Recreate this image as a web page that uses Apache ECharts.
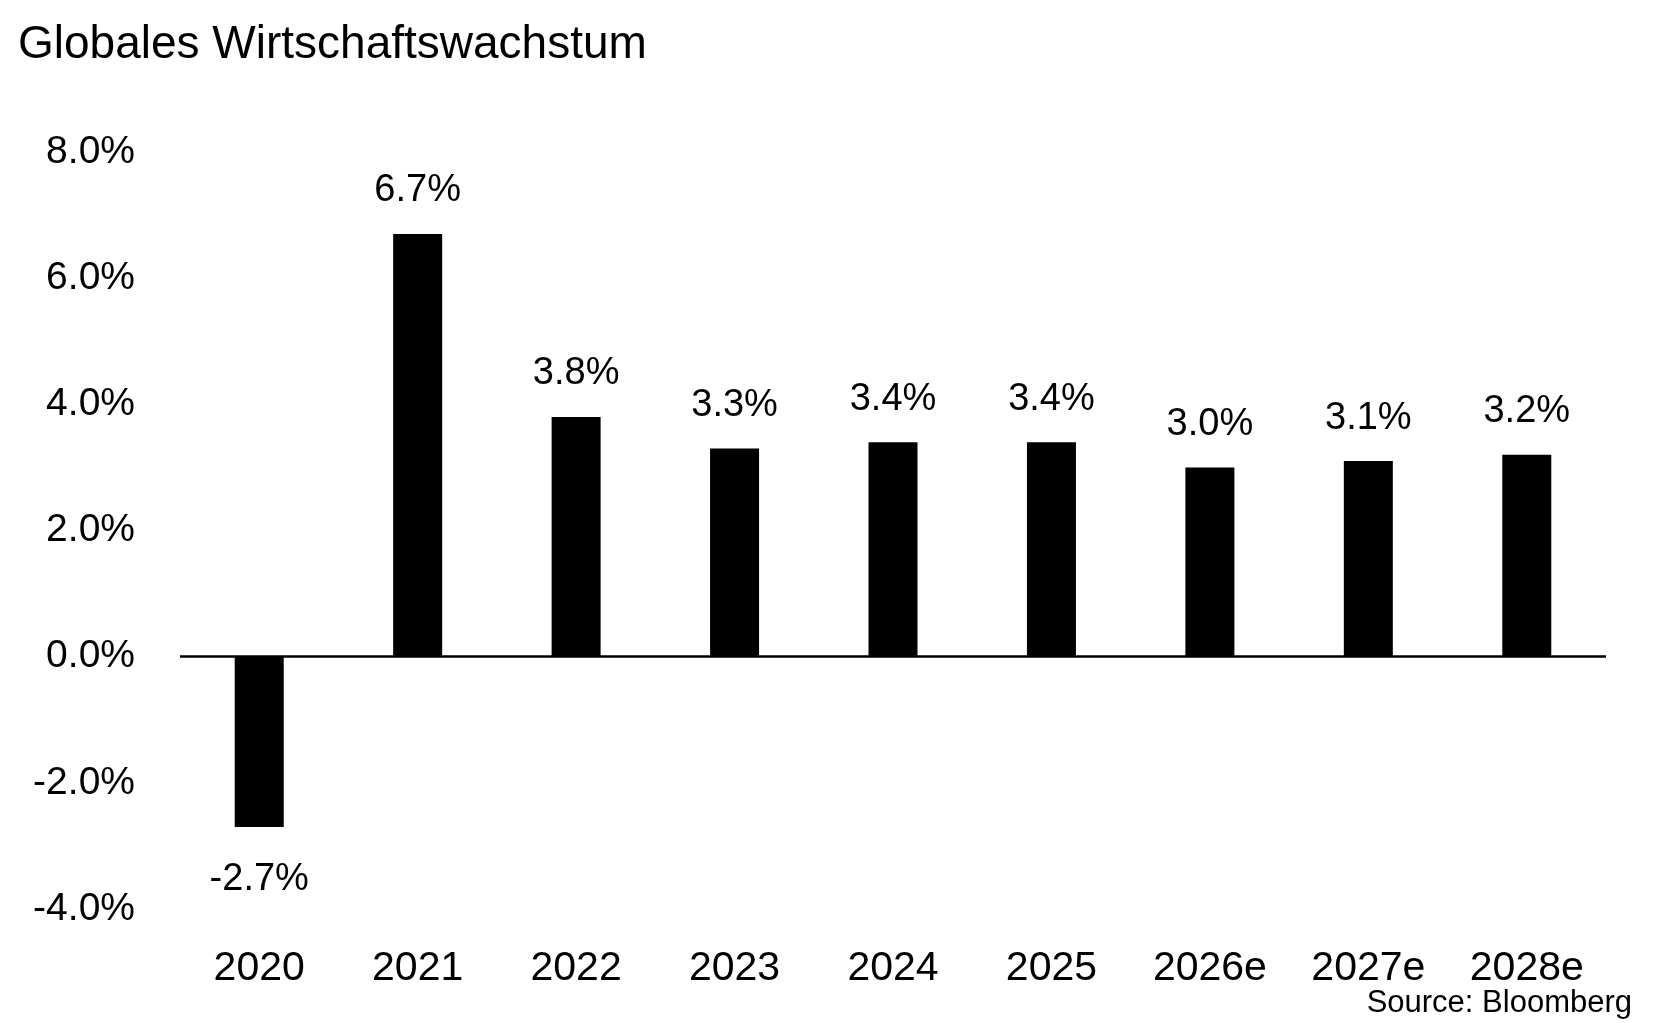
<!DOCTYPE html>
<html>
<head>
<meta charset="utf-8">
<script src="https://cdn.jsdelivr.net/npm/echarts@6/dist/echarts.min.js"></script>
<style>
html,body{margin:0;padding:0;background:#fff;}
#chart{width:1657px;height:1023px;}
</style>
</head>
<body>
<div id="chart"></div>
<script>
const categories = ['2020','2021','2022','2023','2024','2025','2026e','2027e','2028e'];
const growth = [-2.7, 6.7, 3.8, 3.3, 3.4, 3.4, 3.0, 3.1, 3.2];
const yMin = -4, yMax = 8, yStep = 2;
const titleText = 'Globales Wirtschaftswachstum';
const sourceText = 'Source: Bloomberg';

const FONT = '"Liberation Sans", Arial, sans-serif';
const chart = echarts.init(document.getElementById('chart'));

const seriesData = growth.map(v => v < 0
  ? { value: v, label: { position: 'bottom', distance: 34 } }
  : { value: v });

chart.setOption({
  animation: false,
  backgroundColor: '#ffffff',
  title: {
    text: titleText,
    left: 13,
    top: 17,
    textStyle: { fontFamily: FONT, fontSize: 46, fontWeight: 'normal', color: '#000' }
  },
  graphic: [{
    type: 'text',
    right: 25,
    top: 988,
    style: { text: sourceText, fontFamily: FONT, fontSize: 31, fill: '#000' }
  }],
  grid: { left: 180, right: 51, top: 152, bottom: 114, containLabel: false },
  xAxis: {
    type: 'category',
    data: categories,
    axisLine: { show: false, onZero: false },
    axisTick: { show: false },
    axisLabel: { margin: 39, fontFamily: FONT, fontSize: 41, color: '#000' }
  },
  yAxis: {
    type: 'value',
    min: yMin, max: yMax, interval: yStep,
    splitLine: { show: false },
    axisLine: { show: false },
    axisTick: { show: false },
    axisLabel: {
      margin: 45, fontFamily: FONT, fontSize: 39, color: '#000',
      padding: [4, 0, 0, 0],
      formatter: v => v.toFixed(1) + '%'
    }
  },
  series: [{
    type: 'bar',
    data: seriesData,
    barWidth: 49,
    itemStyle: { color: '#000' },
    label: {
      show: true,
      position: 'top',
      distance: 24,
      fontFamily: FONT, fontSize: 38, color: '#000',
      formatter: p => p.value.toFixed(1) + '%'
    },
    markLine: {
      silent: true,
      symbol: 'none',
      label: { show: false },
      lineStyle: { color: '#000', width: 2.5, type: 'solid' },
      data: [{ yAxis: 0 }]
    }
  }]
});
</script>
</body>
</html>
